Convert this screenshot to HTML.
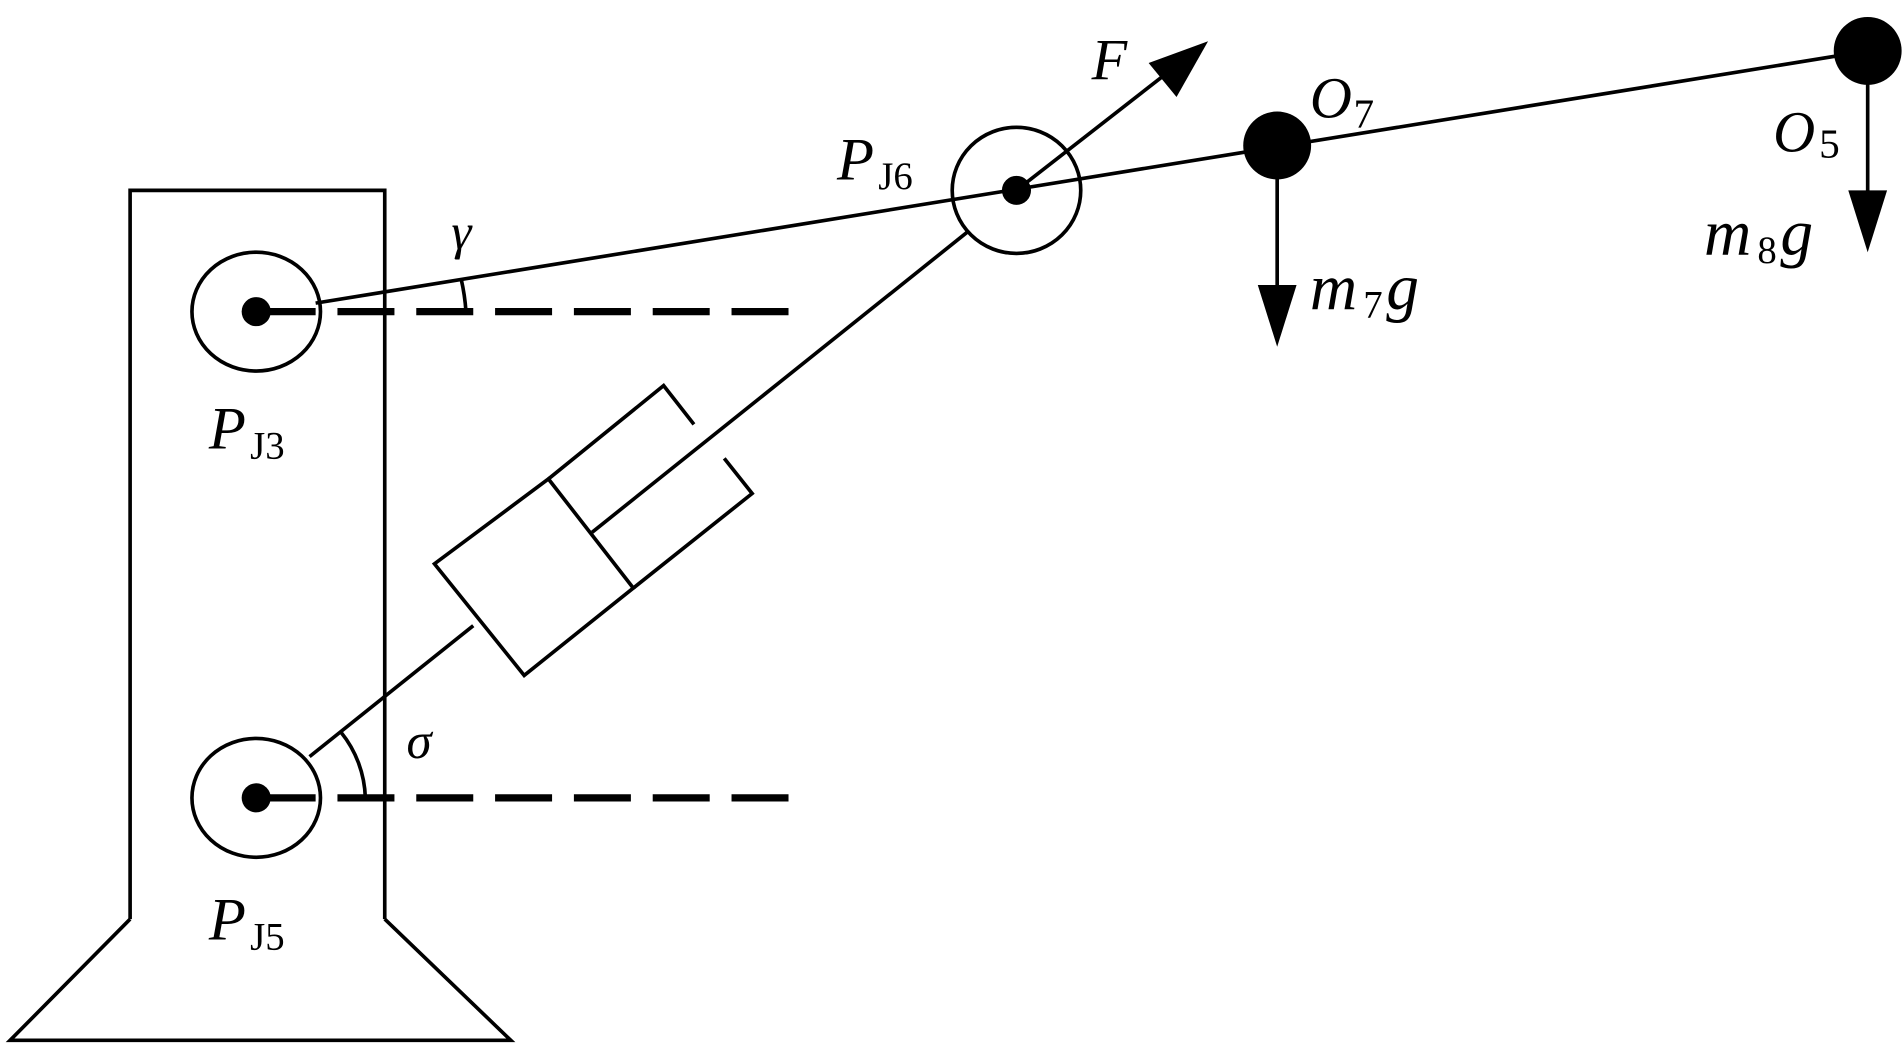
<!DOCTYPE html>
<html><head><meta charset="utf-8"><style>
html,body{margin:0;padding:0;background:#fff;}
svg{display:block;}
text{font-family:"Liberation Serif",serif;fill:#000;}
.it{font-style:italic;}
</style></head><body>
<svg width="1902" height="1044" viewBox="0 0 1568 861" xmlns="http://www.w3.org/2000/svg">
<g fill="none" stroke="#000" stroke-width="3">
<polyline points="107,758 107,157 317,157 317,758"/>
<polyline points="107,758 8,858 421,858 317,758"/>
<ellipse cx="211" cy="257" rx="53" ry="49" fill="#fff"/>
<ellipse cx="211" cy="658" rx="53" ry="49" fill="#fff"/>
<line x1="260" y1="250" x2="1540" y2="42"/>
<line x1="255" y1="624" x2="390" y2="516"/>
<line x1="488" y1="439" x2="798" y2="191"/>
<polygon points="358,465 452,395 522,485 432,557"/>
<polyline points="452,395 547,318 572,350"/>
<polyline points="522,485 620,407 597,378"/>
<ellipse cx="838" cy="157" rx="53" ry="52"/>
<path d="M 380,230 A 172 172 0 0 1 384,257"/>
<path d="M 281,604 A 90 90 0 0 1 301,658"/>
<line x1="838" y1="157" x2="965" y2="58"/>
<line x1="1053" y1="120" x2="1053" y2="240"/>
<line x1="1540" y1="42" x2="1540" y2="165"/>
</g>
<g stroke="#000" stroke-width="6" stroke-dasharray="47,18" fill="none">
<line x1="213" y1="257" x2="655" y2="257"/>
<line x1="213" y1="658" x2="655" y2="658"/>
</g>
<g fill="#000">
<circle cx="211" cy="257" r="12"/>
<circle cx="211" cy="658" r="12"/>
<circle cx="838" cy="157" r="12"/>
<circle cx="1053" cy="120" r="28"/>
<circle cx="1540" cy="42" r="28"/>
<polygon points="996,34 947,52 970,80"/>
<polygon points="1053,286 1037,235 1069,235"/>
<polygon points="1540,208 1524,157 1556,157"/>
</g>
<text x="172" y="370" font-size="50" class="it">P</text><text x="206" y="378" font-size="32">J3</text>
<text x="172" y="775" font-size="50" class="it">P</text><text x="206" y="783" font-size="32">J5</text>
<text x="690" y="148" font-size="50" class="it">P</text><text x="724" y="156" font-size="32">J6</text>
<text x="900" y="65" font-size="48" class="it">F</text>
<text x="1080" y="97" font-size="48" class="it">O</text><text x="1116" y="105" font-size="34">7</text>
<text x="1462" y="125" font-size="48" class="it">O</text><text x="1500" y="130" font-size="34">5</text>
<text x="1080" y="255" font-size="54" class="it">m</text><text x="1124" y="262" font-size="32">7</text><text x="1143" y="255" font-size="54" class="it">g</text>
<text x="1405" y="210" font-size="54" class="it">m</text><text x="1449" y="217" font-size="32">8</text><text x="1468" y="210" font-size="54" class="it">g</text>
<text x="372" y="205" font-size="42" class="it">γ</text>
<text x="335" y="625" font-size="42" class="it">σ</text>
</svg>
</body></html>
